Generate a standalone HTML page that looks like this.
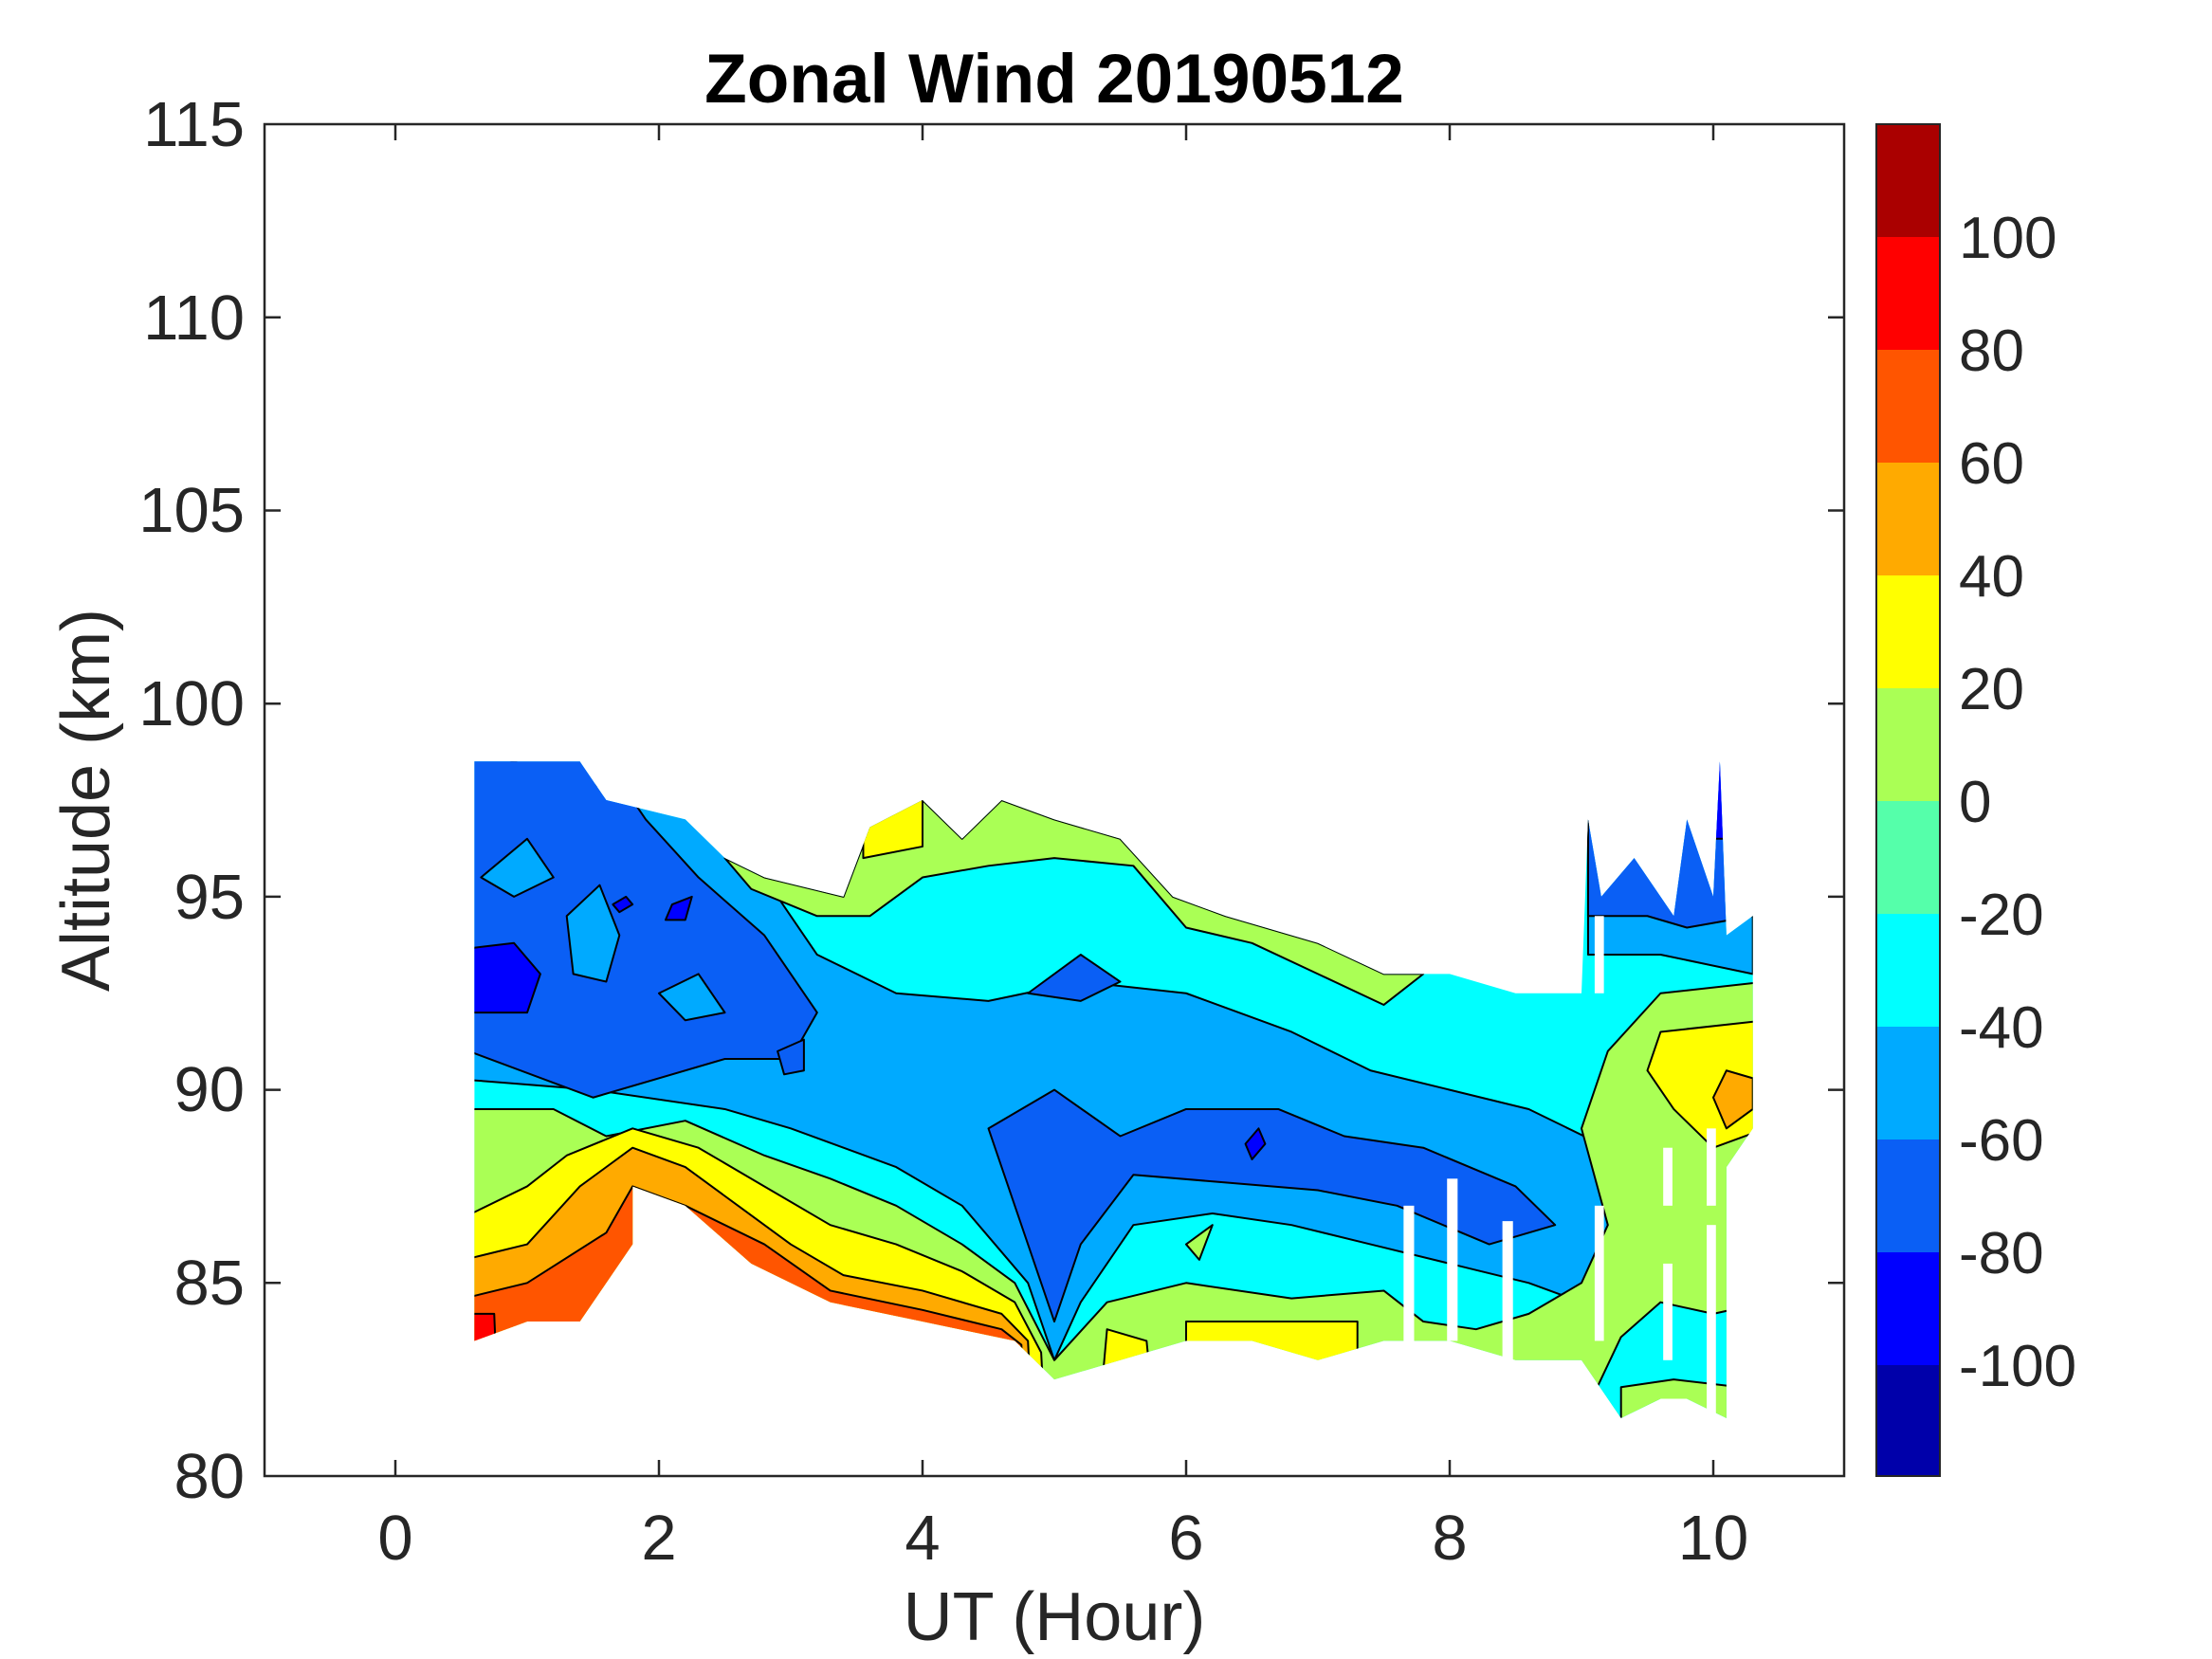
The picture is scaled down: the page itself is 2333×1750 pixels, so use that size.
<!DOCTYPE html>
<html><head><meta charset="utf-8"><style>
html,body{margin:0;padding:0;background:#fff;}
svg{display:block;}
text{font-family:"Liberation Sans",sans-serif;fill:#262626;}
</style></head><body>
<svg width="2333" height="1750" viewBox="0 0 2333 1750" xmlns="http://www.w3.org/2000/svg">
<defs>
<clipPath id="dc" clipPathUnits="userSpaceOnUse">
<polygon points="0.6,98.5 1.4,98.5 1.6,97.5 2.2,97 2.5,96 2.8,95.5 3.4,95 3.6,96.8 4.0,97.5 4.3,96.5 4.6,97.5 5.0,97 5.5,96.5 5.9,95 6.3,94.5 7.0,93.8 7.5,93 8.0,93 8.5,92.5 9.0,92.5 9.05,97 9.15,95 9.4,96 9.7,94.5 9.8,97 10.0,95 10.05,98.5 10.1,94 10.3,94.5 10.3,89 10.1,88 10.1,81.5 9.8,82 9.6,82 9.3,81.5 9.0,83 8.5,83 8.0,83.5 7.5,83.5 7.0,83 6.5,83.5 6.0,83.5 5.5,83 5.0,82.5 4.7,83.5 4.0,84 3.3,84.5 2.7,85.5 2.2,87 1.8,87.5 1.8,86 1.4,84 1.0,84 0.6,83.5"/>
</clipPath>
</defs>
<g transform="translate(417,1557) scale(139,-40.74) translate(0,-80)">
<g clip-path="url(#dc)" stroke="#000" stroke-width="2" stroke-linejoin="round">
<style>polygon{vector-effect:non-scaling-stroke}</style>
<rect x="0" y="80" width="11" height="20" fill="#00FFFF" stroke="none"/>
<polygon fill="#00AAFF" points="0.4,99 2.4,97 2.8,95.5 3.2,93.5 3.8,92.5 4.5,92.3 5.2,92.8 6,92.5 6.8,91.5 7.4,90.5 8,90 8.6,89.5 9.2,88.5 9.5,87 9.4,85.5 9.0,84.5 8.6,85 8.0,85.5 7.4,86 6.8,86.5 6.2,86.8 5.6,86.5 5.2,84.5 5.0,83 4.8,85 4.3,87 3.8,88 3.0,89 2.5,89.5 1.5,90 0.4,90.3"/>
<polygon fill="#00AAFF" points="9.05,97.5 10.3,97.5 10.3,93 9.6,93.5 9.05,93.5"/>
<polygon fill="#0A5FF5" points="0.4,99 1.5,99 1.9,97 2.3,95.5 2.8,94 3.2,92 3.0,90.8 2.5,90.8 1.5,89.8 0.4,91.2"/>
<polygon fill="#00AAFF" points="1.3,94.5 1.55,95.3 1.7,94 1.6,92.8 1.35,93"/>
<polygon fill="#00AAFF" points="0.65,95.5 1.0,96.5 1.2,95.5 0.9,95"/>
<polygon fill="#00AAFF" points="2.0,92.5 2.3,93 2.5,92 2.2,91.8"/>
<polygon fill="#0A5FF5" points="4.5,89 5.0,90 5.5,88.8 6.0,89.5 6.7,89.5 7.2,88.8 7.8,88.5 8.5,87.5 8.8,86.5 8.3,86 7.6,87 7,87.4 6.3,87.6 5.6,87.8 5.2,86 5.0,84 4.8,86 4.6,88"/>
<polygon fill="#0A5FF5" points="4.8,92.5 5.2,93.5 5.5,92.8 5.2,92.3"/>
<polygon fill="#0A5FF5" points="2.9,91 3.1,91.3 3.1,90.5 2.95,90.4"/>
<polygon fill="#0A5FF5" points="9.05,97.5 9.5,96 10.05,99 10.3,94.5 9.8,94.2 9.5,94.5 9.05,94.5"/>
<polygon fill="#0000FF" points="0.4,92 1.0,92 1.1,93 0.9,93.8 0.4,93.6"/>
<polygon fill="#0000FF" points="9.95,96.5 10.1,96.5 10.1,99 9.95,99"/>
<polygon fill="#0000FF" points="1.7,94.6 1.8,94.8 1.75,95 1.65,94.8"/>
<polygon fill="#0000FF" points="6.5,88.2 6.6,88.6 6.55,89 6.45,88.6"/>
<polygon fill="#0000FF" points="2.1,94.8 2.25,95 2.2,94.4 2.05,94.4"/>
<polygon fill="#AAFF55" points="0.4,80 0.4,89.5 1.2,89.5 1.6,88.8 2.2,89.2 2.8,88.3 3.3,87.7 3.8,87 4.3,86 4.7,85 5.0,83 5.4,84.5 6,85 6.8,84.6 7.5,84.8 7.8,84 8.2,83.8 8.6,84.2 9.0,85 9.2,86.5 9.0,89 9.2,91 9.6,92.5 10.4,92.8 10.4,80"/>
<polygon fill="#AAFF55" points="2.5,96 2.8,95.5 3.4,95 3.6,96.8 4.0,97.5 4.3,96.5 4.6,97.5 5.0,97 5.5,96.5 5.9,95 6.3,94.5 7.0,93.8 7.5,93 7.8,93 7.5,92.2 7.0,93 6.5,93.8 6.0,94.2 5.6,95.8 5.0,96 4.5,95.8 4.0,95.5 3.6,94.5 3.2,94.5 2.7,95.2"/>
<polygon fill="#00FFFF" points="1.2,87.8 1.4,88.3 1.5,87.5 1.3,87.2"/>
<polygon fill="#AAFF55" points="6.0,86 6.2,86.5 6.1,85.6"/>
<polygon fill="#00FFFF" points="8.8,80 9.3,83.6 9.6,84.5 10.0,84.2 10.4,84.5 10.4,80"/>
<polygon fill="#AAFF55" points="9.3,80 9.3,82.3 9.7,82.5 10.2,82.3 10.2,80"/>
<polygon fill="#FFFF00" points="0.4,80 0.4,86.5 1.0,87.5 1.3,88.3 1.8,89 2.3,88.5 2.8,87.5 3.3,86.5 3.8,86 4.3,85.3 4.7,84.5 4.9,83.2 4.95,80"/>
<polygon fill="#FFFF00" points="9.6,91.5 10.4,91.8 10.4,89 10.0,88.5 9.7,89.5 9.5,90.5"/>
<polygon fill="#FFFF00" points="3.55,96 4.0,96.3 4.0,98 3.55,98"/>
<polygon fill="#FFFF00" points="6.0,80 6.0,84 7.3,84 7.3,80"/>
<polygon fill="#FFFF00" points="5.3,80 5.4,83.8 5.7,83.5 5.8,80"/>
<polygon fill="#FFAA00" points="0.4,80 0.4,85.5 1.0,86 1.4,87.5 1.8,88.5 2.2,88 2.6,87 3.0,86 3.4,85.2 4.0,84.8 4.6,84.2 4.8,83.5 4.85,80"/>
<polygon fill="#FFAA00" points="10.1,89 10.3,89.5 10.3,90.3 10.1,90.5 10.0,89.8"/>
<polygon fill="#FF5500" points="0.4,80 0.4,84.5 1.0,85 1.6,86.3 1.8,87.5 2.2,87 2.8,86 3.3,84.8 4.0,84.3 4.6,83.8 4.75,83.4 4.8,80"/>
<polygon fill="#FF0000" points="0.4,80 0.4,84.2 0.75,84.2 0.8,80"/>
</g>
<g fill="#fff">
<rect x="7.65" y="83" width="0.08" height="4"/>
<rect x="7.98" y="83.5" width="0.08" height="4.2"/>
<rect x="8.4" y="83" width="0.08" height="3.6"/>
<rect x="9.1" y="83.5" width="0.07" height="3.5"/>
<rect x="9.1" y="92.5" width="0.07" height="2"/>
<rect x="9.62" y="83" width="0.07" height="2.5"/>
<rect x="9.62" y="87" width="0.07" height="1.5"/>
<rect x="9.95" y="81.5" width="0.07" height="5"/>
<rect x="9.95" y="87" width="0.07" height="2"/>
</g>
</g>
<rect x="279" y="131" width="1666" height="1426" fill="none" stroke="#262626" stroke-width="2.5"/>
<g stroke="#262626" stroke-width="2.5">
<line x1="417" y1="131" x2="417" y2="148"/><line x1="417" y1="1557" x2="417" y2="1540"/>
<line x1="695" y1="131" x2="695" y2="148"/><line x1="695" y1="1557" x2="695" y2="1540"/>
<line x1="973" y1="131" x2="973" y2="148"/><line x1="973" y1="1557" x2="973" y2="1540"/>
<line x1="1251" y1="131" x2="1251" y2="148"/><line x1="1251" y1="1557" x2="1251" y2="1540"/>
<line x1="1529" y1="131" x2="1529" y2="148"/><line x1="1529" y1="1557" x2="1529" y2="1540"/>
<line x1="1807" y1="131" x2="1807" y2="148"/><line x1="1807" y1="1557" x2="1807" y2="1540"/>
<line x1="279" y1="1353.3" x2="296" y2="1353.3"/><line x1="1945" y1="1353.3" x2="1928" y2="1353.3"/>
<line x1="279" y1="1149.6" x2="296" y2="1149.6"/><line x1="1945" y1="1149.6" x2="1928" y2="1149.6"/>
<line x1="279" y1="945.9" x2="296" y2="945.9"/><line x1="1945" y1="945.9" x2="1928" y2="945.9"/>
<line x1="279" y1="742.2" x2="296" y2="742.2"/><line x1="1945" y1="742.2" x2="1928" y2="742.2"/>
<line x1="279" y1="538.5" x2="296" y2="538.5"/><line x1="1945" y1="538.5" x2="1928" y2="538.5"/>
<line x1="279" y1="334.8" x2="296" y2="334.8"/><line x1="1945" y1="334.8" x2="1928" y2="334.8"/>
</g>
<g font-size="67" text-anchor="end">
<text x="258" y="1580">80</text><text x="258" y="1376">85</text><text x="258" y="1172">90</text>
<text x="258" y="969">95</text><text x="258" y="765">100</text><text x="258" y="561">105</text>
<text x="258" y="358">110</text><text x="258" y="154">115</text>
</g>
<g font-size="67" text-anchor="middle">
<text x="417" y="1645">0</text><text x="695" y="1645">2</text><text x="973" y="1645">4</text>
<text x="1251" y="1645">6</text><text x="1529" y="1645">8</text><text x="1807" y="1645">10</text>
</g>
<text x="1112" y="1730" font-size="72" text-anchor="middle">UT (Hour)</text>
<text transform="translate(115,844) rotate(-90)" font-size="72" text-anchor="middle">Altitude (km)</text>
<text x="1112" y="108" font-size="73" font-weight="bold" text-anchor="middle" style="fill:#000">Zonal Wind 20190512</text>
<g>
<rect x="1979" y="131" width="67" height="119" fill="#AA0000"/>
<rect x="1979" y="250" width="67" height="119" fill="#FF0000"/>
<rect x="1979" y="369" width="67" height="119" fill="#FF5500"/>
<rect x="1979" y="488" width="67" height="119" fill="#FFAA00"/>
<rect x="1979" y="607" width="67" height="119" fill="#FFFF00"/>
<rect x="1979" y="726" width="67" height="119" fill="#AAFF55"/>
<rect x="1979" y="845" width="67" height="119" fill="#55FFAA"/>
<rect x="1979" y="964" width="67" height="119" fill="#00FFFF"/>
<rect x="1979" y="1083" width="67" height="119" fill="#00AAFF"/>
<rect x="1979" y="1202" width="67" height="119" fill="#0A5FF5"/>
<rect x="1979" y="1321" width="67" height="119" fill="#0000FF"/>
<rect x="1979" y="1440" width="67" height="117" fill="#0000AA"/>
<rect x="1979" y="131" width="67" height="1426" fill="none" stroke="#262626" stroke-width="2"/>
</g>
<g font-size="62">
<text x="2066" y="272">100</text><text x="2066" y="391">80</text><text x="2066" y="510">60</text>
<text x="2066" y="629">40</text><text x="2066" y="748">20</text><text x="2066" y="867">0</text>
<text x="2066" y="986">-20</text><text x="2066" y="1105">-40</text><text x="2066" y="1224">-60</text>
<text x="2066" y="1343">-80</text><text x="2066" y="1462">-100</text>
</g>
</svg>
</body></html>
